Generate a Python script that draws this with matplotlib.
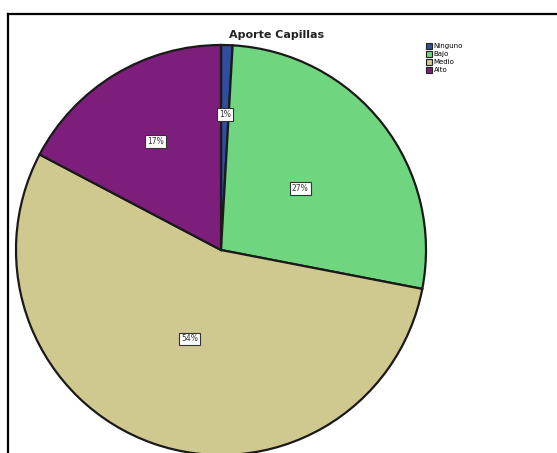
import numpy as np
import matplotlib
matplotlib.use("Agg")
import matplotlib.pyplot as plt
from matplotlib.lines import Line2D
from matplotlib.patches import Patch

categories = ["Ninguno", "Bajo", "Medio", "Alto"]
values = [0.9, 27.0, 54.4, 17.2]
pct_labels = ["1%", "27%", "54%", "17%"]
colors = ["#2f4f9c", "#6fd67f", "#d0c98f", "#7e1e7c"]
label_radius = [0.66, 0.49, 0.46, 0.62]

W, H = 557, 453
fig = plt.figure(figsize=(W / 100, H / 100), dpi=100)
fig.patch.set_facecolor("white")

cx, cy, R = 221, 250, 205
ax = fig.add_axes([(cx - R) / W, (H - cy - R) / H, 2 * R / W, 2 * R / H])
wedges, _ = ax.pie(values, colors=colors, startangle=90, counterclock=False,
                   wedgeprops=dict(edgecolor="#1a1a1a", linewidth=1.6))
ax.set_xlim(-1, 1)
ax.set_ylim(-1, 1)
ax.set_aspect("equal")
ax.axis("off")
for w, lab, r in zip(wedges, pct_labels, label_radius):
    th = np.deg2rad((w.theta1 + w.theta2) / 2)
    ax.text(r * np.cos(th), r * np.sin(th), lab, ha="center", va="center",
            fontsize=5.5, color="#333333",
            bbox=dict(boxstyle="square,pad=0.25", fc="white", ec="#333333", lw=0.8))

fig.text(277 / W, 1 - 35 / H, "Aporte Capillas", ha="center", va="center",
         fontsize=8, fontweight="bold", color="#222222")

handles = [Patch(facecolor=c, edgecolor="#222222", linewidth=0.8) for c in colors]
fig.legend(handles, categories, loc="upper left", bbox_to_anchor=(426 / W, 1 - 43 / H),
           frameon=False, fontsize=5, handlelength=0.9, handleheight=0.9,
           handletextpad=0.2, labelspacing=0.25, borderpad=0, borderaxespad=0)

fig.add_artist(Line2D([8 / W, 8 / W], [0, 1 - 14 / H], color="black", lw=1.6,
                      transform=fig.transFigure))
fig.add_artist(Line2D([8 / W, 1], [1 - 14 / H, 1 - 14 / H], color="black", lw=1.6,
                      transform=fig.transFigure))

fig.savefig("out.png", dpi=100, facecolor="white")
